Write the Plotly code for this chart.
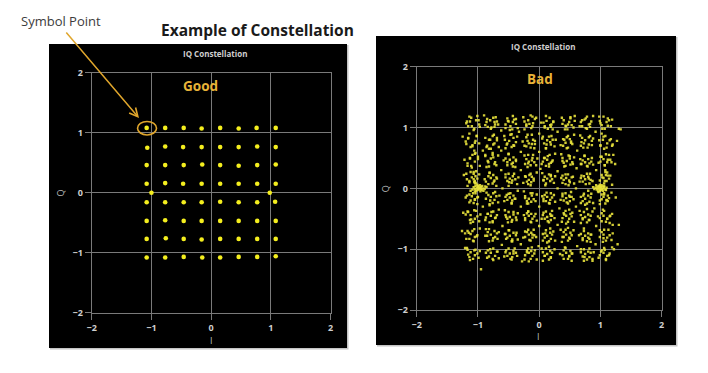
import plotly.graph_objects as go

# ---------------- data ----------------
# "Good" constellation: one tight blob per 64-QAM symbol + two pilot points
good_I = [
    -1.08, -0.77, -0.46, -0.16, 0.15, 0.46, 0.76, 1.08,
    -1.07, -0.77, -0.47, -0.16, 0.15, 0.46, 0.77, 1.08,
    -1.08, -0.77, -0.46, -0.15, 0.15, 0.46, 0.77, 1.08,
    -1.08, -0.77, -0.47, -0.16, 0.15, 0.46, 0.77, 1.08,
    -1.08, -0.77, -0.46, -0.16, 0.15, 0.46, 0.77, 1.07,
    -1.08, -0.77, -0.46, -0.16, 0.15, 0.46, 0.77, 1.08,
    -1.08, -0.76, -0.46, -0.16, 0.15, 0.46, 0.77, 1.08,
    -1.08, -0.77, -0.46, -0.15, 0.15, 0.46, 0.77, 1.08,
    -1.00, 0.98,
]
good_Q = [
    1.08, 1.08, 1.08, 1.07, 1.08, 1.07, 1.08, 1.08,
    0.75, 0.77, 0.76, 0.76, 0.76, 0.76, 0.77, 0.76,
    0.46, 0.46, 0.46, 0.47, 0.46, 0.45, 0.46, 0.47,
    0.15, 0.16, 0.15, 0.15, 0.15, 0.15, 0.15, 0.15,
    -0.16, -0.16, -0.16, -0.16, -0.15, -0.16, -0.16, -0.15,
    -0.47, -0.46, -0.47, -0.47, -0.47, -0.47, -0.47, -0.47,
    -0.77, -0.76, -0.77, -0.78, -0.77, -0.77, -0.77, -0.77,
    -1.08, -1.08, -1.07, -1.08, -1.08, -1.07, -1.07, -1.06,
    0.00, 0.00,
]

# "Bad" constellation: noisy symbols, read row by row (core points)
bad_row_1 = [(-1.14,1.18),(-1.03,1.12),(-1.10,1.02),(-1.19,1.07),(-0.98,1.05),(-1.07,0.96),(-1.13,1.10),(-1.01,1.19),
             (-0.80,1.12),(-0.72,1.05),(-0.84,1.01),(-0.75,1.16),(-0.69,1.10),(-0.79,0.98),(-0.86,1.09),(-0.73,1.01),
             (-0.50,1.10),(-0.41,1.13),(-0.47,1.02),(-0.55,1.05),(-0.38,1.06),(-0.44,0.97),(-0.52,1.15),(-0.43,1.09),
             (-0.18,1.12),(-0.10,1.07),(-0.21,1.03),(-0.13,0.99),(-0.07,1.14),(-0.16,1.06),(-0.24,1.10),(-0.11,1.18),
             (0.12,1.11),(0.20,1.05),(0.09,1.02),(0.17,1.16),(0.23,1.10),(0.14,0.98),(0.07,1.08),(0.19,1.01),
             (0.44,1.02),(0.49,1.09),(0.40,1.12),(0.53,1.04),(0.46,0.97),(0.38,1.06),(0.51,1.15),(0.47,1.05),
             (0.74,1.13),(0.81,1.05),(0.70,1.02),(0.78,1.18),(0.85,1.10),(0.76,0.99),(0.68,1.09),(0.83,1.01),
             (1.05,1.18),(1.10,1.09),(1.02,1.04),(1.14,1.12),(1.07,0.98),(0.99,1.11),(1.12,1.03),(1.30,0.98)]
bad_row_2 = [(-1.16,0.82),(-1.05,0.75),(-1.12,0.68),(-1.20,0.77),(-1.02,0.86),(-1.09,0.71),(-1.14,0.90),(-1.06,0.62),
             (-0.80,0.80),(-0.73,0.74),(-0.85,0.70),(-0.76,0.86),(-0.69,0.79),(-0.82,0.65),(-0.75,0.72),(-0.88,0.83),
             (-0.49,0.78),(-0.42,0.83),(-0.53,0.72),(-0.45,0.68),(-0.38,0.76),(-0.47,0.88),(-0.56,0.80),(-0.41,0.70),
             (-0.17,0.74),(-0.10,0.80),(-0.21,0.84),(-0.14,0.67),(-0.07,0.73),(-0.19,0.78),(-0.12,0.88),(-0.24,0.70),
             (0.13,0.79),(0.19,0.72),(0.08,0.74),(0.16,0.85),(0.22,0.80),(0.11,0.66),(0.18,0.76),(0.05,0.82),
             (0.43,0.75),(0.50,0.81),(0.39,0.70),(0.47,0.86),(0.54,0.73),(0.45,0.66),(0.41,0.80),(0.52,0.77),
             (0.75,0.79),(0.81,0.72),(0.70,0.83),(0.79,0.67),(0.86,0.78),(0.73,0.74),(0.83,0.86),(0.68,0.70),
             (1.04,0.80),(1.11,0.74),(1.00,0.70),(1.08,0.86),(1.15,0.79),(1.06,0.65),(1.20,0.72),(1.02,0.90)]
bad_row_3 = [(-1.13,0.50),(-1.05,0.44),(-1.17,0.41),(-1.09,0.55),(-1.00,0.48),(-1.11,0.37),(-1.22,0.47),(-1.04,0.58),
             (-0.79,0.49),(-0.72,0.43),(-0.84,0.45),(-0.76,0.55),(-0.70,0.38),(-0.82,0.36),(-0.75,0.51),(-0.88,0.53),
             (-0.48,0.47),(-0.42,0.51),(-0.52,0.43),(-0.45,0.40),(-0.38,0.45),(-0.50,0.56),(-0.55,0.49),(-0.43,0.36),
             (-0.17,0.44),(-0.11,0.50),(-0.21,0.48),(-0.14,0.38),(-0.08,0.43),(-0.18,0.55),(-0.23,0.40),(-0.12,0.46),
             (0.13,0.47),(0.19,0.42),(0.09,0.50),(0.17,0.55),(0.22,0.46),(0.11,0.37),(0.06,0.44),(0.16,0.40),
             (0.45,0.45),(0.50,0.49),(0.40,0.42),(0.48,0.54),(0.54,0.43),(0.43,0.37),(0.38,0.50),(0.51,0.39),
             (0.75,0.43),(0.80,0.48),(0.71,0.46),(0.78,0.37),(0.85,0.44),(0.74,0.53),(0.82,0.41),(0.68,0.40),
             (1.05,0.48),(1.11,0.43),(1.02,0.52),(1.09,0.56),(1.16,0.47),(1.07,0.38),(1.00,0.44),(1.21,0.55)]
bad_row_4 = [(-1.10,0.18),(-1.05,0.12),(-1.14,0.10),(-1.07,0.24),(-1.01,0.16),(-1.12,0.27),(-1.18,0.15),(-1.04,0.08),
             (-0.79,0.17),(-0.73,0.13),(-0.83,0.20),(-0.76,0.08),(-0.70,0.18),(-0.81,0.25),(-0.75,0.22),(-0.87,0.11),
             (-0.48,0.16),(-0.43,0.20),(-0.52,0.12),(-0.45,0.09),(-0.39,0.15),(-0.50,0.24),(-0.55,0.18),(-0.44,0.13),
             (-0.17,0.14),(-0.12,0.19),(-0.20,0.11),(-0.14,0.24),(-0.09,0.16),(-0.18,0.07),(-0.23,0.20),(-0.13,0.10),
             (0.13,0.16),(0.18,0.12),(0.09,0.19),(0.16,0.23),(0.21,0.15),(0.11,0.08),(0.07,0.13),(0.19,0.20),
             (0.44,0.17),(0.49,0.13),(0.40,0.14),(0.47,0.23),(0.53,0.18),(0.43,0.07),(0.38,0.21),(0.50,0.10),
             (0.75,0.15),(0.80,0.19),(0.71,0.11),(0.78,0.24),(0.84,0.14),(0.73,0.20),(0.82,0.08),(0.68,0.17),
             (1.05,0.17),(1.10,0.12),(1.02,0.22),(1.08,0.27),(1.14,0.16),(1.06,0.08),(0.99,0.13),(1.12,0.21)]
bad_row_5 = [(-1.10,-0.13),(-1.05,-0.18),(-1.14,-0.10),(-1.07,-0.24),(-1.01,-0.15),(-1.12,-0.20),(-1.18,-0.12),(-1.04,-0.08),
             (-0.79,-0.14),(-0.73,-0.19),(-0.83,-0.11),(-0.76,-0.24),(-0.70,-0.13),(-0.81,-0.28),(-0.75,-0.08),(-0.87,-0.17),
             (-0.48,-0.15),(-0.42,-0.12),(-0.52,-0.19),(-0.45,-0.24),(-0.39,-0.17),(-0.50,-0.09),(-0.55,-0.14),(-0.44,-0.20),
             (-0.17,-0.17),(-0.12,-0.12),(-0.20,-0.21),(-0.14,-0.08),(-0.09,-0.18),(-0.18,-0.25),(-0.23,-0.13),(-0.13,-0.22),
             (0.13,-0.14),(0.18,-0.19),(0.09,-0.11),(0.16,-0.24),(0.21,-0.15),(0.11,-0.21),(0.07,-0.17),(0.19,-0.08),
             (0.44,-0.16),(0.49,-0.12),(0.40,-0.20),(0.47,-0.25),(0.53,-0.14),(0.43,-0.08),(0.38,-0.13),(0.50,-0.21),
             (0.75,-0.17),(0.80,-0.12),(0.71,-0.21),(0.78,-0.25),(0.84,-0.15),(0.73,-0.09),(0.82,-0.22),(0.68,-0.14),
             (1.05,-0.14),(1.10,-0.19),(1.02,-0.10),(1.08,-0.25),(1.14,-0.16),(1.06,-0.08),(0.99,-0.20),(1.12,-0.12)]
bad_row_6 = [(-1.12,-0.44),(-1.05,-0.50),(-1.16,-0.39),(-1.08,-0.55),(-1.01,-0.46),(-1.13,-0.52),(-1.20,-0.43),(-1.06,-0.36),
             (-0.79,-0.45),(-0.72,-0.49),(-0.84,-0.42),(-0.76,-0.54),(-0.69,-0.44),(-0.81,-0.56),(-0.75,-0.38),(-0.87,-0.48),
             (-0.48,-0.47),(-0.42,-0.43),(-0.52,-0.50),(-0.45,-0.55),(-0.38,-0.48),(-0.50,-0.39),(-0.55,-0.44),(-0.44,-0.52),
             (-0.17,-0.45),(-0.11,-0.50),(-0.20,-0.41),(-0.14,-0.55),(-0.08,-0.46),(-0.18,-0.38),(-0.23,-0.49),(-0.13,-0.42),
             (0.13,-0.47),(0.18,-0.42),(0.09,-0.50),(0.16,-0.56),(0.21,-0.45),(0.11,-0.38),(0.06,-0.44),(0.19,-0.52),
             (0.44,-0.45),(0.49,-0.50),(0.40,-0.41),(0.47,-0.55),(0.53,-0.46),(0.43,-0.37),(0.38,-0.49),(0.51,-0.42),
             (0.75,-0.47),(0.80,-0.43),(0.71,-0.51),(0.78,-0.56),(0.84,-0.45),(0.73,-0.39),(0.82,-0.52),(0.68,-0.44),
             (1.05,-0.45),(1.11,-0.50),(1.02,-0.41),(1.09,-0.55),(1.15,-0.46),(1.06,-0.37),(0.99,-0.49),(1.19,-0.42)]
bad_row_7 = [(-1.12,-0.75),(-1.05,-0.80),(-1.17,-0.70),(-1.08,-0.86),(-1.01,-0.77),(-1.14,-0.83),(-1.21,-0.74),(-1.06,-0.67),
             (-0.79,-0.76),(-0.72,-0.80),(-0.84,-0.72),(-0.76,-0.86),(-0.69,-0.74),(-0.82,-0.67),(-0.75,-0.82),(-0.88,-0.78),
             (-0.48,-0.78),(-0.42,-0.73),(-0.52,-0.81),(-0.45,-0.87),(-0.38,-0.77),(-0.50,-0.69),(-0.55,-0.75),(-0.44,-0.84),
             (-0.17,-0.76),(-0.11,-0.81),(-0.20,-0.72),(-0.14,-0.86),(-0.08,-0.77),(-0.18,-0.68),(-0.23,-0.80),(-0.13,-0.73),
             (0.13,-0.78),(0.18,-0.73),(0.09,-0.81),(0.16,-0.87),(0.21,-0.76),(0.11,-0.69),(0.06,-0.75),(0.19,-0.83),
             (0.44,-0.76),(0.49,-0.81),(0.40,-0.72),(0.47,-0.86),(0.53,-0.77),(0.43,-0.68),(0.38,-0.80),(0.51,-0.73),
             (0.75,-0.78),(0.80,-0.74),(0.71,-0.82),(0.78,-0.87),(0.84,-0.76),(0.73,-0.70),(0.82,-0.83),(0.68,-0.75),
             (1.05,-0.76),(1.11,-0.81),(1.02,-0.72),(1.09,-0.86),(1.15,-0.77),(1.06,-0.68),(0.99,-0.80),(1.20,-0.60)]
bad_row_8 = [(-1.12,-1.05),(-1.05,-1.10),(-1.17,-1.01),(-1.08,-1.16),(-1.01,-1.07),(-1.14,-1.13),(-1.21,-0.98),(-1.06,-1.02),
             (-0.79,-1.06),(-0.72,-1.11),(-0.84,-1.02),(-0.76,-1.16),(-0.69,-1.04),(-0.82,-1.12),(-0.75,-0.99),(-0.95,-1.33),
             (-0.48,-1.07),(-0.42,-1.03),(-0.52,-1.11),(-0.45,-1.17),(-0.38,-1.06),(-0.50,-0.99),(-0.55,-1.05),(-0.44,-1.13),
             (-0.17,-1.06),(-0.11,-1.11),(-0.20,-1.02),(-0.14,-1.16),(-0.08,-1.07),(-0.18,-0.99),(-0.23,-1.10),(-0.13,-1.03),
             (0.13,-1.08),(0.18,-1.03),(0.09,-1.11),(0.16,-1.17),(0.21,-1.06),(0.11,-0.99),(0.06,-1.05),(0.19,-1.13),
             (0.44,-1.06),(0.49,-1.11),(0.40,-1.02),(0.47,-1.16),(0.53,-1.07),(0.43,-0.98),(0.38,-1.10),(0.51,-1.03),
             (0.75,-1.08),(0.80,-1.04),(0.71,-1.12),(0.78,-1.17),(0.84,-1.06),(0.73,-1.00),(0.82,-1.13),(0.68,-1.05),
             (1.05,-1.06),(1.11,-1.11),(1.02,-1.02),(1.09,-1.16),(1.15,-1.07),(1.06,-0.98),(0.99,-1.10),(1.22,-1.00)]

# "Bad" constellation: second layer of points around each symbol
bad_spread_1 = [(-0.99,1.12),(-1.16,1.02),(-1.06,0.98),(-1.11,1.16),(-0.97,1.01),(-1.18,1.10),
                (-0.85,1.14),(-0.71,1.17),(-0.67,1.05),(-0.78,1.00),(-0.88,1.04),(-0.73,1.09),
                (-0.43,1.19),(-0.55,0.99),(-0.38,1.14),(-0.35,0.99),(-0.51,1.11),(-0.48,0.96),
                (-0.26,1.17),(-0.05,1.16),(-0.21,1.05),(-0.11,1.02),(-0.14,1.20),(-0.24,0.97),
                (0.22,0.97),(0.11,1.19),(0.03,1.08),(0.23,1.09),(0.18,1.04),(0.09,1.00),
                (0.58,1.11),(0.43,1.03),(0.37,1.16),(0.51,1.17),(0.42,0.97),(0.56,1.00),
                (0.70,1.12),(0.78,0.98),(0.88,1.19),(0.66,1.02),(0.83,1.06),(0.76,1.15),
                (1.12,1.15),(0.98,1.18),(1.17,1.02),(1.03,0.98),(1.19,1.13),(1.00,1.07)]
bad_spread_2 = [(-1.16,0.83),(-1.02,0.86),(-0.98,0.74),(-1.09,0.69),(-1.19,0.73),(-1.04,0.78),
                (-0.74,0.88),(-0.86,0.68),(-0.69,0.83),(-0.66,0.68),(-0.82,0.80),(-0.79,0.65),
                (-0.57,0.86),(-0.36,0.85),(-0.52,0.74),(-0.42,0.71),(-0.45,0.89),(-0.55,0.66),
                (-0.08,0.66),(-0.19,0.88),(-0.27,0.77),(-0.07,0.78),(-0.12,0.73),(-0.21,0.69),
                (0.27,0.80),(0.12,0.72),(0.06,0.85),(0.20,0.86),(0.11,0.66),(0.25,0.69),
                (0.39,0.81),(0.47,0.67),(0.57,0.88),(0.35,0.71),(0.52,0.75),(0.45,0.84),
                (0.81,0.84),(0.67,0.87),(0.86,0.71),(0.72,0.67),(0.88,0.82),(0.69,0.76),
                (1.17,0.81),(1.00,0.71),(1.10,0.67),(1.05,0.85),(1.19,0.70),(0.98,0.79)]
bad_spread_3 = [(-1.05,0.57),(-1.17,0.37),(-1.00,0.52),(-0.97,0.37),(-1.13,0.49),(-1.10,0.34),
                (-0.88,0.55),(-0.67,0.54),(-0.83,0.43),(-0.73,0.40),(-0.76,0.58),(-0.86,0.35),
                (-0.39,0.35),(-0.50,0.57),(-0.58,0.46),(-0.38,0.47),(-0.43,0.42),(-0.52,0.38),
                (-0.03,0.49),(-0.18,0.41),(-0.24,0.54),(-0.10,0.55),(-0.19,0.35),(-0.05,0.38),
                (0.08,0.50),(0.16,0.36),(0.26,0.57),(0.04,0.40),(0.21,0.44),(0.14,0.53),
                (0.50,0.53),(0.36,0.56),(0.55,0.40),(0.41,0.36),(0.57,0.51),(0.38,0.45),
                (0.86,0.50),(0.69,0.40),(0.79,0.36),(0.74,0.54),(0.88,0.39),(0.67,0.48),
                (1.00,0.52),(1.14,0.55),(1.18,0.43),(1.07,0.38),(0.97,0.42),(1.12,0.47)]
bad_spread_4 = [(-1.19,0.24),(-0.98,0.23),(-1.14,0.12),(-1.04,0.09),(-1.07,0.27),(-1.17,0.04),
                (-0.70,0.04),(-0.81,0.26),(-0.89,0.15),(-0.69,0.16),(-0.74,0.11),(-0.83,0.07),
                (-0.34,0.18),(-0.49,0.10),(-0.55,0.23),(-0.41,0.24),(-0.50,0.04),(-0.36,0.07),
                (-0.22,0.19),(-0.14,0.05),(-0.04,0.26),(-0.26,0.09),(-0.09,0.13),(-0.16,0.22),
                (0.19,0.22),(0.05,0.25),(0.24,0.09),(0.10,0.05),(0.26,0.20),(0.07,0.14),
                (0.55,0.19),(0.38,0.09),(0.48,0.05),(0.43,0.23),(0.57,0.08),(0.36,0.17),
                (0.69,0.21),(0.83,0.24),(0.87,0.12),(0.76,0.07),(0.66,0.11),(0.81,0.16),
                (1.11,0.26),(0.99,0.06),(1.16,0.21),(1.19,0.06),(1.03,0.18),(1.06,0.03)]
bad_spread_5 = [(-1.01,-0.26),(-1.12,-0.04),(-1.20,-0.15),(-1.00,-0.14),(-1.05,-0.19),(-1.14,-0.23),
                (-0.65,-0.12),(-0.80,-0.20),(-0.86,-0.07),(-0.72,-0.06),(-0.81,-0.26),(-0.67,-0.23),
                (-0.53,-0.11),(-0.45,-0.25),(-0.35,-0.04),(-0.57,-0.21),(-0.40,-0.17),(-0.47,-0.08),
                (-0.11,-0.08),(-0.25,-0.05),(-0.06,-0.21),(-0.20,-0.25),(-0.04,-0.10),(-0.23,-0.16),
                (0.24,-0.11),(0.07,-0.21),(0.17,-0.25),(0.12,-0.07),(0.26,-0.22),(0.05,-0.13),
                (0.38,-0.09),(0.52,-0.06),(0.56,-0.18),(0.45,-0.23),(0.35,-0.19),(0.50,-0.14),
                (0.80,-0.04),(0.68,-0.24),(0.85,-0.09),(0.88,-0.24),(0.72,-0.12),(0.75,-0.27),
                (0.97,-0.06),(1.18,-0.07),(1.02,-0.18),(1.12,-0.21),(1.09,-0.03),(0.99,-0.26)]
bad_spread_6 = [(-0.96,-0.43),(-1.11,-0.51),(-1.17,-0.38),(-1.03,-0.37),(-1.12,-0.57),(-0.98,-0.54),
                (-0.84,-0.42),(-0.76,-0.56),(-0.66,-0.35),(-0.88,-0.52),(-0.71,-0.48),(-0.78,-0.39),
                (-0.42,-0.39),(-0.56,-0.36),(-0.37,-0.52),(-0.51,-0.56),(-0.35,-0.41),(-0.54,-0.47),
                (-0.06,-0.42),(-0.23,-0.52),(-0.13,-0.56),(-0.18,-0.38),(-0.04,-0.53),(-0.25,-0.44),
                (0.07,-0.40),(0.21,-0.37),(0.25,-0.49),(0.14,-0.54),(0.04,-0.50),(0.19,-0.45),
                (0.49,-0.35),(0.37,-0.55),(0.54,-0.40),(0.57,-0.55),(0.41,-0.43),(0.44,-0.58),
                (0.66,-0.37),(0.87,-0.38),(0.71,-0.49),(0.81,-0.52),(0.78,-0.34),(0.68,-0.57),
                (1.15,-0.57),(1.04,-0.35),(0.96,-0.46),(1.16,-0.45),(1.11,-0.50),(1.02,-0.54)]
bad_spread_7 = [(-1.15,-0.73),(-1.07,-0.87),(-0.97,-0.66),(-1.19,-0.83),(-1.02,-0.79),(-1.09,-0.70),
                (-0.73,-0.70),(-0.87,-0.67),(-0.68,-0.83),(-0.82,-0.87),(-0.66,-0.72),(-0.85,-0.78),
                (-0.37,-0.73),(-0.54,-0.83),(-0.44,-0.87),(-0.49,-0.69),(-0.35,-0.84),(-0.56,-0.75),
                (-0.23,-0.71),(-0.09,-0.68),(-0.05,-0.80),(-0.16,-0.85),(-0.26,-0.81),(-0.11,-0.76),
                (0.18,-0.66),(0.06,-0.86),(0.23,-0.71),(0.26,-0.86),(0.10,-0.74),(0.13,-0.89),
                (0.35,-0.68),(0.56,-0.69),(0.40,-0.80),(0.50,-0.83),(0.47,-0.65),(0.37,-0.88),
                (0.84,-0.88),(0.73,-0.66),(0.65,-0.77),(0.85,-0.76),(0.80,-0.81),(0.71,-0.85),
                (1.20,-0.74),(1.05,-0.82),(0.99,-0.69),(1.13,-0.68),(1.04,-0.88),(1.18,-0.85)]
bad_spread_8 = [(-1.04,-1.01),(-1.18,-0.98),(-0.99,-1.14),(-1.13,-1.18),(-0.97,-1.03),(-1.16,-1.09),
                (-0.68,-1.04),(-0.85,-1.14),(-0.75,-1.18),(-0.80,-1.00),(-0.66,-1.15),(-0.87,-1.06),
                (-0.54,-1.02),(-0.40,-0.99),(-0.36,-1.11),(-0.47,-1.16),(-0.57,-1.12),(-0.42,-1.07),
                (-0.12,-0.97),(-0.24,-1.17),(-0.07,-1.02),(-0.04,-1.17),(-0.20,-1.05),(-0.17,-1.20),
                (0.04,-0.99),(0.25,-1.00),(0.09,-1.11),(0.19,-1.14),(0.16,-0.96),(0.06,-1.19),
                (0.53,-1.19),(0.42,-0.97),(0.34,-1.08),(0.54,-1.07),(0.49,-1.12),(0.40,-1.16),
                (0.89,-1.05),(0.74,-1.13),(0.68,-1.00),(0.82,-0.99),(0.73,-1.19),(0.87,-1.16),
                (1.01,-1.04),(1.09,-1.18),(1.19,-0.97),(0.97,-1.14),(1.14,-1.10),(1.07,-1.01)]
# dense pilot blobs near (-1, 0) and (1, 0)
bad_pilots = [(-1.02,0.01),(-0.98,-0.02),(-0.95,0.02),(-1.05,-0.01),(-0.92,0.00),(-1.00,0.03),(-0.97,0.05),(-1.03,-0.04),
              (-0.89,-0.01),(-0.94,-0.03),(-1.07,0.02),(-0.99,0.00),(-0.96,-0.05),(-1.01,0.06),(-0.86,0.02),(-0.93,0.04),
              (-1.04,0.04),(-0.91,-0.04),(-1.09,-0.02),(-0.97,0.01),(-1.06,0.10),(-1.04,0.20),(-1.08,-0.08),(-1.03,0.28),
              (-1.07,0.15),(-1.05,-0.05),(-0.99,0.03),(-0.95,-0.01),(-1.01,-0.03),(-0.88,0.03),
              (1.00,0.00),(0.97,0.02),(1.03,-0.01),(0.94,-0.02),(1.06,0.03),(0.99,-0.04),(0.92,0.01),(1.02,0.05),
              (0.96,-0.05),(1.08,-0.02),(1.01,0.02),(0.98,0.04),(0.90,-0.01),(1.04,-0.04),(0.95,0.03),(1.10,0.01),
              (0.99,0.02),(1.02,-0.02),(0.93,0.05),(1.05,0.00),(1.07,0.12),(1.09,0.22),(1.06,-0.10),(1.08,0.30),
              (1.10,-0.20),(0.97,-0.01),(1.03,0.03),(0.95,0.00),(1.00,-0.03),(0.88,0.02)]
# stray points between symbols
bad_strays = [(-0.62,0.95),(-0.30,0.60),(0.00,0.90),(0.30,0.28),(0.62,0.62),(0.93,0.30),(-0.92,-0.30),(-0.60,-0.62),
              (-0.30,-0.92),(0.00,-0.30),(0.30,-0.60),(0.62,-0.95),(0.93,-0.62),(-0.62,0.30),(-0.30,-0.30),(0.00,0.60),
              (0.30,0.93),(0.60,0.00),(0.92,0.93),(-0.92,0.62),(-0.60,0.00),(-0.30,0.30),(0.00,-0.62),(0.30,0.00),
              (0.60,-0.30),(0.92,-0.92),(-1.25,0.85),(-1.24,-0.40),(1.27,0.78),(1.33,0.97),(1.25,-0.15),(1.28,-0.92),
              (-0.61,-0.93),(0.02,0.32),(-0.33,0.93),(0.61,0.33),(0.33,-0.33),(-0.01,-0.95),(-0.62,0.62),(0.90,-0.33),
              (-1.23,0.22),(-1.26,-0.70),(1.24,0.40),(1.30,-0.60),(-0.90,1.20),(0.58,1.19),(-0.28,-1.20),(0.87,-1.19)]

axis_ticks = [-2, -1, 0, 1, 2]

# ---------------- figure ----------------
W, H = 708, 373
OFF = 8  # the page body margin shifts the figure by 8 px

def px(x):
    return (x - OFF) / W

def py(y):
    return 1 - (y - OFF) / H

bad_pts = (bad_row_1 + bad_row_2 + bad_row_3 + bad_row_4 + bad_row_5 + bad_row_6 + bad_row_7 + bad_row_8
           + bad_spread_1 + bad_spread_2 + bad_spread_3 + bad_spread_4 + bad_spread_5 + bad_spread_6
           + bad_spread_7 + bad_spread_8 + bad_pilots + bad_strays)
bad_I = [p[0] for p in bad_pts]
bad_Q = [p[1] for p in bad_pts]

fig = go.Figure()
fig.add_trace(go.Scatter(x=good_I, y=good_Q, mode="markers", xaxis="x", yaxis="y",
                         marker=dict(color="#f4ee1e", size=4.6, line=dict(width=0)),
                         showlegend=False, hoverinfo="skip"))
fig.add_trace(go.Scatter(x=bad_I, y=bad_Q, mode="markers", xaxis="x2", yaxis="y2",
                         marker=dict(color="#e8e23c", size=2.4, opacity=0.9, symbol="square", line=dict(width=0)),
                         showlegend=False, hoverinfo="skip"))

grid = "#7a7a7a"

def ax(domain, anchor):
    return dict(domain=domain, anchor=anchor, range=[-2, 2], tickvals=axis_ticks, automargin=False,
                showgrid=True, gridcolor=grid, gridwidth=1, zeroline=True, zerolinecolor=grid,
                zerolinewidth=1, showline=True, mirror=True, linecolor=grid, linewidth=1,
                ticks="outside", ticklen=6, tickcolor=grid, tickwidth=1,
                tickfont=dict(size=9, color="#cfcfcf", family="Open Sans", weight="bold"),
                fixedrange=True)

fig.update_layout(
    width=W, height=H, margin=dict(l=0, r=0, t=0, b=0, autoexpand=False),
    paper_bgcolor="white", plot_bgcolor="black",
    xaxis=ax([px(91.7), px(330.7)], "y"),
    yaxis=ax([py(312.7), py(72.7)], "x"),
    xaxis2=ax([px(416.7), px(661.7)], "y2"),
    yaxis2=ax([py(310), py(66.7)], "x2"),
)

shapes = [
    dict(type="rect", xref="paper", yref="paper", x0=px(50), x1=px(348.5), y0=py(349.5), y1=py(45),
         fillcolor="#c4c4c4", line=dict(width=0), layer="below"),
    dict(type="rect", xref="paper", yref="paper", x0=px(49), x1=px(347), y0=py(348), y1=py(44),
         fillcolor="black", line=dict(width=0), layer="below"),
    dict(type="rect", xref="paper", yref="paper", x0=px(377), x1=px(677.5), y0=py(346.5), y1=py(37),
         fillcolor="#c4c4c4", line=dict(width=0), layer="below"),
    dict(type="rect", xref="paper", yref="paper", x0=px(376), x1=px(676), y0=py(345), y1=py(36),
         fillcolor="black", line=dict(width=0), layer="below"),
    # highlight circle around a symbol point
    dict(type="circle", xref="x", yref="y", x0=-1.233, x1=-0.915, y0=0.962, y1=1.187,
         line=dict(color="#e0a62c", width=1.6)),
]
fig.update_layout(shapes=shapes)

gold = "#e8b338"

def label(text, x, y, size, color, angle=0):
    return dict(text=text, x=px(x), y=py(y), xref="paper", yref="paper", xanchor="center",
                yanchor="middle", showarrow=False, textangle=angle,
                font=dict(family="Open Sans", size=size, color=color))

anns = [
    label("<b>Example of Constellation</b>", 257.5, 30, 15.5, "#1a1a1a"),
    label("Symbol Point", 61, 21, 13, "#3c3c3c"),
    dict(text="", x=px(139), y=py(118), xref="paper", yref="paper", showarrow=True,
         ax=65 - 139, ay=31 - 118, arrowhead=5, arrowsize=1.1, arrowwidth=1.5, arrowcolor="#e0a62c"),
    label("<b>IQ Constellation</b>", 215, 53.5, 8, "#cfcfcf"),
    label("<b>IQ Constellation</b>", 543, 46.5, 8, "#cfcfcf"),
    label("<b>Good</b>", 200.5, 86, 13.5, gold),
    label("<b>Bad</b>", 539.7, 78.5, 13.5, gold),
    label("I", 211, 340, 9, "#bdbdbd"),
    label("I", 538.5, 336.7, 9, "#bdbdbd"),
    label("Q", 59.5, 193, 9, "#bdbdbd", -90),
    label("Q", 385, 188.3, 9, "#bdbdbd", -90),
]
fig.update_layout(annotations=anns)

fig.write_html("out.html")
